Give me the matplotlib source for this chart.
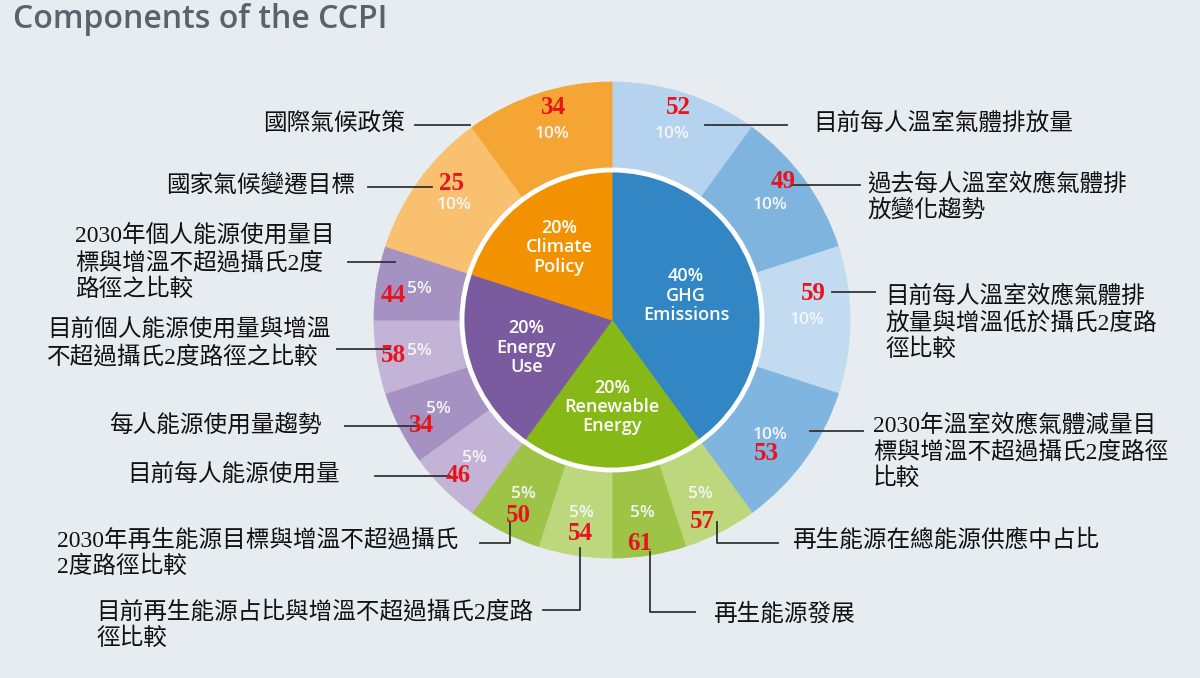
import matplotlib.pyplot as plt
from matplotlib.patches import Circle
import numpy as np

# inner ring: four CCPI categories
inner_names = ['GHG\nEmissions', 'Renewable\nEnergy', 'Energy\nUse', 'Climate\nPolicy']
inner_share = [40, 20, 20, 20]
inner_colors = ['#3186c3', '#86b817', '#7b5ba0', '#f39200']

# outer ring: 14 indicators, clockwise from 12 o'clock
outer_share = [10, 10, 10, 10, 5, 5, 5, 5, 5, 5, 5, 5, 10, 10]
outer_colors = ['#b5d3ee', '#7fb4df', '#c3dbf1', '#80b5df',
                '#bdd77c', '#9dc447', '#bdd77c', '#9dc447',
                '#c3b3d7', '#a591c2', '#c3b3d7', '#a591c2',
                '#f8c06f', '#f5a533']
scores = [52, 49, 59, 53, 57, 61, 54, 50, 46, 34, 58, 44, 25, 34]
indicators = [
    '目前每人溫室氣體排放量',
    '過去每人溫室效應氣體排\n放變化趨勢',
    '目前每人溫室效應氣體排\n放量與增溫低於攝氏2度路\n徑比較',
    '2030年溫室效應氣體減量目\n標與增溫不超過攝氏2度路徑\n比較',
    '再生能源在總能源供應中占比',
    '再生能源發展',
    '目前再生能源占比與增溫不超過攝氏2度路\n徑比較',
    '2030年再生能源目標與增溫不超過攝氏\n2度路徑比較',
    '目前每人能源使用量',
    '每人能源使用量趨勢',
    '目前個人能源使用量與增溫\n不超過攝氏2度路徑之比較',
    '2030年個人能源使用量目\n標與增溫不超過攝氏2度\n路徑之比較',
    '國家氣候變遷目標',
    '國際氣候政策',
]

# layout (pixels from top-left)
W, H = 1200, 678
cx, cy = 612, H - 320
r_out, r_in = 238, 150
bg = '#e6ecf0'

label_pos = [(813, 123, 'left'), (867, 197, 'left'), (885, 323, 'left'),
             (873, 452, 'left'), (792, 541, 'left'), (713, 615, 'left'),
             (96, 625, 'left'), (57, 553, 'left'), (340, 474, 'right'),
             (322, 425, 'right'), (47, 344, 'left'), (75, 263, 'left'),
             (355, 185, 'right'), (405, 123, 'right')]
score_pos = [(678, 108), (783, 181), (813, 294), (766, 454), (702, 521),
             (640, 543), (580, 533), (518, 515), (458, 475), (422, 426),
             (393, 355), (393, 296), (452, 183), (553, 108)]
leaders = [[(787, 125), (705, 125)], [(860, 185), (792, 185)],
           [(875, 292), (832, 292)], [(863, 431), (810, 431)],
           [(778, 543), (717, 543), (717, 522)], [(695, 612), (650, 612), (650, 552)],
           [(543, 610), (580, 610), (580, 548)], [(480, 543), (510, 543), (510, 522)],
           [(375, 476), (450, 476)], [(345, 426), (418, 426)],
           [(337, 349), (390, 349)], [(348, 262), (395, 262)],
           [(368, 187), (432, 187)], [(415, 125), (470, 125)]]
inner_dist = [0.52, 0.58, 0.6, 0.6]

fig = plt.figure(figsize=(12, 6.78), dpi=100)
fig.patch.set_facecolor(bg)
ax = fig.add_axes([0, 0, 1, 1])
ax.set_facecolor(bg)

inner_w, _ = ax.pie(inner_share, radius=r_in, center=(cx, cy), startangle=90,
                    counterclock=False, colors=inner_colors)
outer_w, _, pcts = ax.pie(outer_share, radius=r_out, center=(cx, cy), startangle=90,
                          counterclock=False, colors=outer_colors,
                          wedgeprops=dict(width=r_out - r_in),
                          autopct=lambda p: f'{p:.0f}%', pctdistance=0.82,
                          textprops=dict(color='#f4f6f8', fontsize=12.5,
                                         fontweight='semibold', family='Open Sans'))
for w in inner_w + outer_w:
    w.set_edgecolor(w.get_facecolor())
    w.set_linewidth(0.6)
ax.add_patch(Circle((cx, cy), r_in, fill=False, edgecolor='white', lw=3.5, zorder=3))

for w, name, share, d in zip(inner_w, inner_names, inner_share, inner_dist):
    t = np.deg2rad((w.theta1 + w.theta2) / 2)
    ax.text(cx + d * r_in * np.cos(t), cy + d * r_in * np.sin(t), f'{share}%\n{name}',
            ha='center', va='center', color='white', fontsize=13,
            family='Open Sans', fontweight='semibold', linespacing=1.1, zorder=4)

cjk = ['Liberation Serif', 'Noto Sans CJK TC']
for name, (x, y, ha), s, (sx, sy), pts in zip(indicators, label_pos, scores, score_pos, leaders):
    wt = 'medium' if name.startswith('2030') else 'normal'
    ax.text(x, H - y, name, ha=ha, va='center', fontsize=17, family=cjk,
            fontweight=wt, color='#111111', linespacing=1.22, multialignment='left')
    xs, ys = zip(*pts)
    ax.plot(xs, [H - v for v in ys], color='#333333', lw=1.3, zorder=5)
    ax.text(sx, H - sy, str(s), ha='center', va='center', fontsize=18,
            family='Liberation Serif', fontweight='bold', color='#e8141c', zorder=6)

ax.set_xlim(0, W)
ax.set_ylim(0, H)
ax.set_aspect('equal')
ax.axis('off')

fig.text(13 / W, 1 - 19 / H, 'Components of the CCPI', ha='left', va='center',
         fontsize=23, family='Open Sans', fontweight='semibold', color='#59636e')

plt.savefig('out.png', dpi=100, facecolor=bg)
